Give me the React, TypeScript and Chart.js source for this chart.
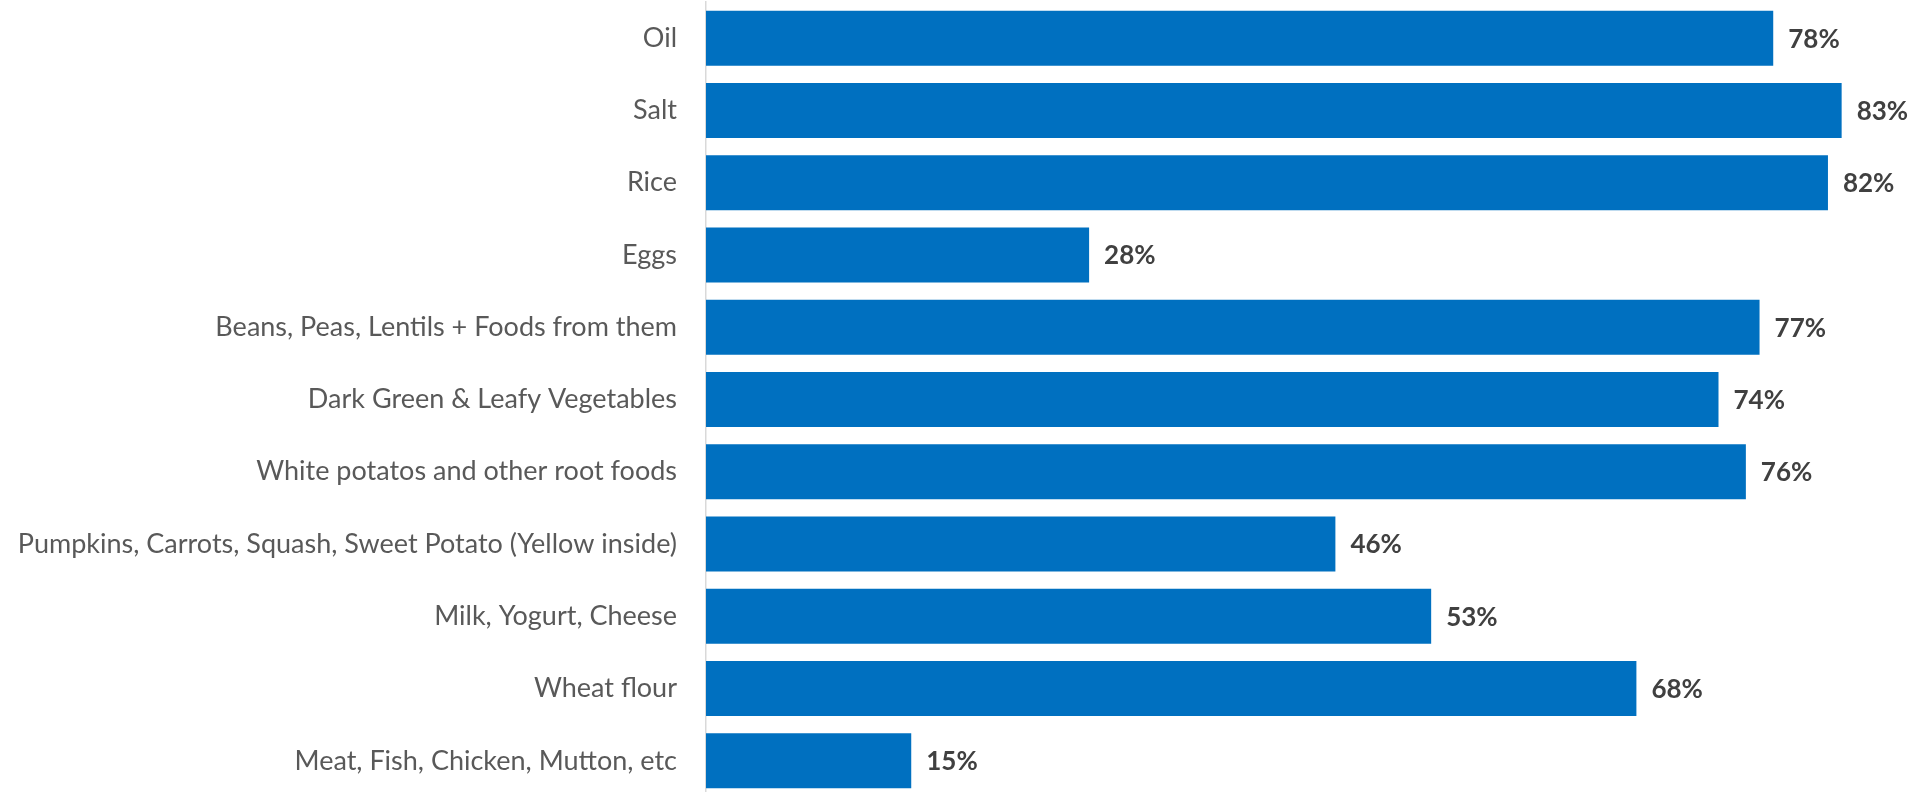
import React, { useEffect, useRef } from "react";
import { Chart, registerables } from "chart.js";

Chart.register(...registerables);

const categories = [
  "Oil",
  "Salt",
  "Rice",
  "Eggs",
  "Beans, Peas, Lentils + Foods from them",
  "Dark Green & Leafy Vegetables",
  "White potatos and other root foods",
  "Pumpkins, Carrots, Squash, Sweet Potato (Yellow inside)",
  "Milk, Yogurt, Cheese",
  "Wheat flour",
  "Meat, Fish, Chicken, Mutton, etc",
];
const values = [78, 83, 82, 28, 77, 74, 76, 46, 53, 68, 15];
const valueLabels = ["78%", "83%", "82%", "28%", "77%", "74%", "76%", "46%", "53%", "68%", "15%"];

const FONT = "Lato, 'Open Sans', sans-serif";

const valueLabelPlugin = {
  id: "valueLabels",
  afterDatasetsDraw(chart: any) {
    const ctx = chart.ctx;
    const meta = chart.getDatasetMeta(0);
    ctx.save();
    ctx.font = `bold 26px ${FONT}`;
    ctx.fillStyle = "#404040";
    ctx.textAlign = "left";
    ctx.textBaseline = "middle";
    meta.data.forEach((bar: any, i: number) => {
      ctx.fillText(valueLabels[i], bar.x + 15, bar.y + 1);
    });
    ctx.restore();
  },
};

export default function App() {
  const ref = useRef<HTMLCanvasElement | null>(null);
  useEffect(() => {
    if (!ref.current) return;
    const chart = new Chart(ref.current, {
      type: "bar",
      data: {
        labels: categories,
        datasets: [
          {
            data: values,
            backgroundColor: "#0070C0",
            borderWidth: 0,
            categoryPercentage: 1,
            barPercentage: 0.761,
          },
        ],
      },
      options: {
        indexAxis: "y",
        animation: false,
        responsive: false,
        maintainAspectRatio: false,
        layout: { autoPadding: false, padding: { top: 2, bottom: 1, left: 0, right: 0 } },
        plugins: {
          legend: { display: false },
          tooltip: { enabled: false },
        },
        scales: {
          x: {
            display: false,
            min: 0,
            max: 88.8,
          },
          y: {
            afterFit(scale: any) {
              scale.width = 706;
              scale.paddingTop = 0;
              scale.paddingBottom = 0;
            },
            grid: { display: false, drawTicks: true, tickLength: 29, color: "rgba(0,0,0,0)" },
            border: { display: true, color: "#D9D9D9", width: 1.5 },
            ticks: {
              color: "#595959",
              font: { family: FONT, size: 27 },
              padding: 0,
              autoSkip: false,
            },
          },
        },
      },
      plugins: [valueLabelPlugin],
    });
    return () => chart.destroy();
  }, []);
  return (
    <div
      style={{
        position: "fixed",
        left: 0,
        top: 0,
        width: 1921,
        height: 792,
        overflow: "hidden",
        background: "#fff",
      }}
    >
      <canvas ref={ref} width={1921} height={798} style={{ display: "block", width: 1921, height: 798 }} />
    </div>
  );
}
